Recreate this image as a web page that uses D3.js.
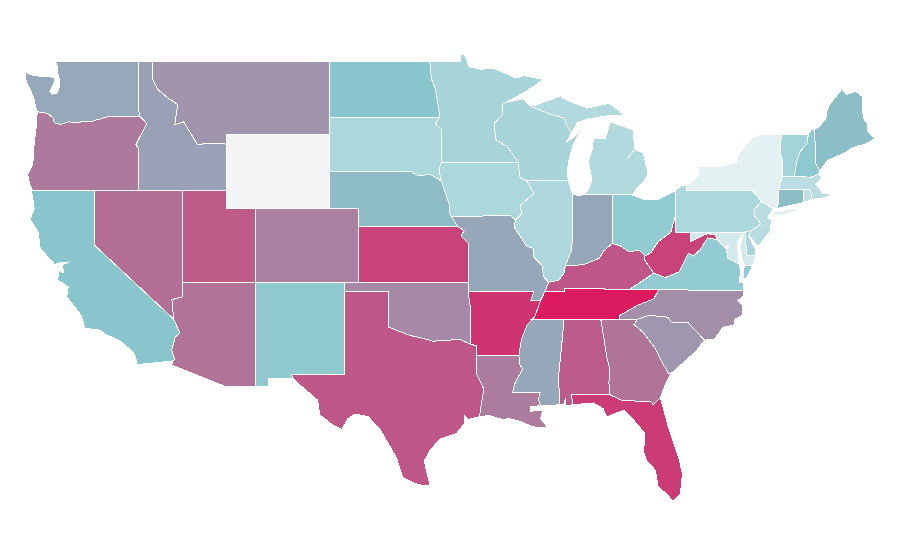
<!DOCTYPE html>
<html>
<head>
<meta charset="utf-8">
<script src="https://cdn.jsdelivr.net/npm/d3@7/dist/d3.min.js"></script>
<style>
  html, body { margin: 0; background: #fff; }
  .state { stroke: #fff; stroke-width: 1; shape-rendering: crispEdges; }
</style>
</head>
<body>
<svg id="map" width="900" height="560"></svg>
<script>
var stateNames = ['WA','OR','CA','NV','ID','MT','WY','UT','AZ','CO','NM','ND','SD','NE','KS','OK','TX','MN','IA','MO','AR','LA','WI','IL','IN','MI','OH','KY','TN','MS','AL','GA','FL','SC','NC','VA','WV','PA','NY','NJ','DE','MD','DC','CT','RI','MA','VT','NH','ME'];

// Read from the fills; WY has no value
var stateValues = [46,64,35.5,68,49,54,null,76,66,61,32.4,35.5,23.3,39,85,58,77,25.3,23.3,46.6,90,63,24.6,22.7,46.6,21.4,31.4,77,100,46.6,75,66,87,53,56,31.8,85,23.3,5.2,19.8,24.6,10.7,5,38,17,19,26,32.7,38];

// lon/lat outlines, one list of rings per state, same order as stateNames
var stateOutlines = [
  // WA
  [[[-124.73,48.38],[-124.1,48.2],[-123.2,48.15],[-122.78,48.12],[-122.7,47.9],[-123.05,47.35],[-122.85,47.2],[-122.6,47.25],[-122.45,47.4],[-122.35,47.9],[-122.5,48.3],[-122.5,48.75],[-122.78,49],[-117.03,49],[-117.04,46.42],[-116.92,45.99],[-118.98,46],[-119.3,45.93],[-120.2,45.73],[-120.65,45.74],[-121.2,45.65],[-121.8,45.7],[-122.3,45.55],[-122.75,45.65],[-122.8,45.9],[-123.2,46.15],[-123.9,46.25],[-124.05,46.65],[-124.1,46.9],[-124.4,47.5],[-124.7,48]]],
  // OR
  [[[-123.9,46.25],[-123.2,46.15],[-122.8,45.9],[-122.75,45.65],[-122.3,45.55],[-121.8,45.7],[-121.2,45.65],[-120.65,45.74],[-120.2,45.73],[-119.3,45.93],[-118.98,46],[-116.92,45.99],[-116.46,45.61],[-116.85,45],[-117.2,44.45],[-117.03,44.25],[-117.03,43.83],[-117.03,42],[-124.21,42],[-124.4,42.3],[-124.55,42.84],[-124.2,43.4],[-124.1,44.6],[-123.95,45.5]]],
  // CA
  [[[-124.21,42],[-120,42],[-120,39],[-114.63,35],[-114.2,34.25],[-114.53,34],[-114.76,33.3],[-114.54,32.8],[-114.72,32.72],[-117.12,32.53],[-117.2,32.9],[-117.4,33.2],[-118.1,33.72],[-118.5,33.9],[-119.2,34.15],[-119.65,34.4],[-120.65,34.5],[-120.9,35.2],[-121.9,36.2],[-121.8,36.75],[-122.15,36.95],[-122.5,37.1],[-122.45,37.7],[-122.3,37.55],[-122.1,37.5],[-122.2,37.95],[-121.7,38.1],[-122.4,38.05],[-122.7,37.95],[-123.7,38.85],[-123.85,39.75],[-124.39,40.4],[-124.1,41],[-124.27,41.9]]],
  // NV
  [[[-120,42],[-114.04,42],[-114.04,36.2],[-114.75,36.05],[-114.63,35],[-120,39]]],
  // ID
  [[[-117.03,49],[-116.05,49],[-116.05,48],[-115.7,47.45],[-114.95,46.95],[-114.35,46.65],[-114.55,45.55],[-113.95,45.7],[-113.45,45.05],[-113,44.45],[-112.3,44.55],[-111.5,44.55],[-111.05,44.48],[-111.05,42],[-117.03,42],[-117.03,43.83],[-117.03,44.25],[-117.2,44.45],[-116.85,45],[-116.46,45.61],[-116.92,45.99],[-117.04,46.42]]],
  // MT
  [[[-116.05,49],[-104.05,49],[-104.05,45],[-111.05,45],[-111.05,44.48],[-111.5,44.55],[-112.3,44.55],[-113,44.45],[-113.45,45.05],[-113.95,45.7],[-114.55,45.55],[-114.35,46.65],[-114.95,46.95],[-115.7,47.45],[-116.05,48]]],
  // WY
  [[[-111.05,45],[-104.05,45],[-104.05,41],[-111.05,41]]],
  // UT
  [[[-114.04,42],[-111.05,42],[-111.05,41],[-109.05,41],[-109.05,37],[-114.04,37]]],
  // AZ
  [[[-114.04,37],[-109.05,37],[-109.05,31.33],[-111.07,31.33],[-114.75,32.5],[-114.72,32.72],[-114.54,32.8],[-114.76,33.3],[-114.53,34],[-114.2,34.25],[-114.63,35],[-114.75,36.05],[-114.04,36.2]]],
  // CO
  [[[-109.05,41],[-102.05,41],[-102.05,37],[-109.05,37]]],
  // NM
  [[[-109.05,37],[-103,37],[-103.04,32],[-106.62,32],[-106.53,31.78],[-108.2,31.78],[-108.2,31.33],[-109.05,31.33]]],
  // ND
  [[[-104.05,49],[-97.23,49],[-97.1,48],[-96.85,47.5],[-96.6,46.3],[-96.56,45.94],[-104.05,45.94]]],
  // SD
  [[[-104.05,45.94],[-96.56,45.94],[-96.85,45.6],[-96.45,45.3],[-96.45,43.5],[-96.6,43.1],[-96.45,42.49],[-97.2,42.85],[-98,42.77],[-98.5,43],[-104.05,43]]],
  // NE
  [[[-104.05,43],[-98.5,43],[-98,42.77],[-97.2,42.85],[-96.45,42.49],[-96.1,41.7],[-95.9,41.2],[-95.85,40.7],[-95.31,40],[-102.05,40],[-102.05,41],[-104.05,41]]],
  // KS
  [[[-102.05,40],[-95.31,40],[-94.9,39.8],[-95.1,39.5],[-94.61,39.11],[-94.62,37],[-102.05,37]]],
  // OK
  [[[-103,37],[-94.62,37],[-94.62,36.5],[-94.43,35.4],[-94.48,33.64],[-95.2,33.9],[-96,33.85],[-97,33.8],[-97.7,33.95],[-98.5,34.1],[-99.2,34.3],[-100,34.56],[-100,36.5],[-103,36.5]]],
  // TX
  [[[-106.62,32],[-103.04,32],[-103,36.5],[-100,36.5],[-100,34.56],[-99.2,34.3],[-98.5,34.1],[-97.7,33.95],[-97,33.8],[-96,33.85],[-95.2,33.9],[-94.48,33.64],[-94.04,33.55],[-94.04,33.02],[-94.04,32],[-93.55,31.2],[-93.7,30.5],[-93.85,29.7],[-94.6,29.55],[-94.85,29.75],[-94.85,29.35],[-95.4,28.8],[-96.5,28.5],[-97.2,27.9],[-97.6,27.3],[-97.4,26.6],[-97.2,25.95],[-97.6,25.95],[-98.3,26.1],[-99.05,26.4],[-99.5,27.5],[-100.6,29],[-101.4,29.7],[-102.3,29.85],[-102.8,29.6],[-103.2,29],[-103.8,29.25],[-104.7,29.8],[-104.85,30.6],[-106,31.4],[-106.53,31.78]]],
  // MN
  [[[-97.23,49],[-95.15,49],[-95.15,49.38],[-94.8,49.3],[-94.6,48.7],[-93.8,48.55],[-92.9,48.6],[-92,48.3],[-91.4,48.07],[-90.8,48.2],[-89.5,48],[-90.8,47.3],[-92.05,46.75],[-92.3,46.65],[-92.3,46.1],[-92.85,45.6],[-92.75,44.75],[-91.9,44.3],[-91.22,43.5],[-96.45,43.5],[-96.45,45.3],[-96.85,45.6],[-96.56,45.94],[-96.6,46.3],[-96.85,47.5],[-97.1,48]]],
  // IA
  [[[-96.45,43.5],[-91.22,43.5],[-91.1,42.7],[-90.64,42.5],[-90.15,41.8],[-91.05,41.2],[-91,40.7],[-91.4,40.38],[-91.73,40.6],[-95.77,40.58],[-95.85,40.7],[-95.9,41.2],[-96.1,41.7],[-96.45,42.49],[-96.6,43.1]]],
  // MO
  [[[-95.77,40.58],[-91.73,40.6],[-91.4,40.38],[-91.5,40],[-91,39.4],[-90.7,39],[-90.15,38.8],[-90.2,38.4],[-89.6,37.9],[-89.5,37.3],[-89.15,37],[-89.4,36.5],[-89.7,36],[-90.37,36],[-90.15,36.5],[-94.62,36.5],[-94.62,37],[-94.61,39.11],[-95.1,39.5],[-94.9,39.8],[-95.31,40]]],
  // AR
  [[[-94.62,36.5],[-90.15,36.5],[-90.37,36],[-89.7,36],[-90.1,35.1],[-90.6,34.7],[-91,33.9],[-91.17,33],[-94.04,33.02],[-94.04,33.55],[-94.48,33.64],[-94.43,35.4]]],
  // LA
  [[[-94.04,33.02],[-91.17,33],[-91.1,32.5],[-90.9,32.3],[-91.4,31.6],[-91.6,31],[-89.73,31],[-89.85,30.65],[-89.7,30.3],[-90.4,30.25],[-90.4,30],[-89.55,30.05],[-89.7,29.6],[-89.2,29.1],[-90.2,29.15],[-91.1,29.45],[-91.8,29.6],[-92.3,29.55],[-93.2,29.77],[-93.85,29.7],[-93.7,30.5],[-93.55,31.2],[-94.04,32]]],
  // WI
  [[[-92.05,46.75],[-90.9,46.95],[-90.4,46.55],[-89.1,46.13],[-88.1,45.9],[-87.8,45.35],[-87.6,45.1],[-88,44.55],[-87.4,44.9],[-87,45.25],[-87.5,44.4],[-87.75,43.7],[-87.9,43],[-87.8,42.49],[-90.64,42.5],[-91.1,42.7],[-91.22,43.5],[-91.9,44.3],[-92.75,44.75],[-92.85,45.6],[-92.3,46.1],[-92.3,46.65]]],
  // IL
  [[[-90.64,42.5],[-87.8,42.49],[-87.53,41.75],[-87.53,39.35],[-87.6,38.7],[-88,37.9],[-88.1,37.5],[-88.45,37.1],[-89.15,37],[-89.5,37.3],[-89.6,37.9],[-90.2,38.4],[-90.15,38.8],[-90.7,39],[-91,39.4],[-91.5,40],[-91.4,40.38],[-91,40.7],[-91.05,41.2],[-90.15,41.8]]],
  // IN
  [[[-87.53,41.75],[-87,41.7],[-86.8,41.76],[-84.8,41.76],[-84.82,39.1],[-85.4,38.7],[-85.7,38.3],[-86.3,38.1],[-86.8,37.95],[-87.6,37.9],[-88,37.9],[-87.6,38.7],[-87.53,39.35]]],
  // MI
  [[[-86.8,41.76],[-84.8,41.76],[-83.45,41.73],[-83.25,42],[-82.5,42.65],[-82.4,42.9],[-82.7,44],[-83.3,44.2],[-83.9,43.6],[-83.3,44.2],[-83.4,45.25],[-84.95,45.7],[-85.3,44.8],[-86.1,44.8],[-86.2,44.17],[-86.45,43.6],[-86.2,42.5],[-86.5,41.95]],
   [[-90.4,46.55],[-90.06,46.6],[-88.5,47.05],[-87.8,47.37],[-88.3,47.05],[-87.7,46.8],[-86.5,46.45],[-85.1,46.7],[-84.3,46.3],[-84.1,46.05],[-85,46.05],[-86.5,45.85],[-87.2,45.65],[-87.6,45.1],[-87.8,45.35],[-88.1,45.9],[-89.1,46.13]]],
  // OH
  [[[-84.8,41.76],[-83.45,41.73],[-82.7,41.5],[-81.7,41.5],[-80.52,41.98],[-80.52,40.64],[-80.85,39.7],[-81.7,39.2],[-82.2,38.6],[-82.6,38.42],[-83,38.73],[-83.7,38.65],[-84.3,38.98],[-84.82,39.1]]],
  // KY
  [[[-89.4,36.5],[-88.07,36.5],[-88.05,36.68],[-83.68,36.6],[-83.1,36.9],[-82,37.5],[-82.6,38.17],[-82.6,38.42],[-83,38.73],[-83.7,38.65],[-84.3,38.98],[-84.82,39.1],[-85.4,38.7],[-85.7,38.3],[-86.3,38.1],[-86.8,37.95],[-87.6,37.9],[-88,37.9],[-88.1,37.5],[-88.45,37.1],[-89.15,37]]],
  // TN
  [[[-90.3,35],[-88.2,35],[-84.32,35],[-84.3,35.2],[-83.1,35.75],[-82,36.1],[-81.68,36.59],[-83.68,36.6],[-88.05,36.68],[-88.07,36.5],[-89.4,36.5],[-89.7,36],[-90.1,35.1]]],
  // MS
  [[[-90.3,35],[-88.2,35],[-88.1,34.9],[-88.47,31.9],[-88.4,30.35],[-89.35,30.3],[-89.7,30.3],[-89.85,30.65],[-89.73,31],[-91.6,31],[-91.4,31.6],[-90.9,32.3],[-91.1,32.5],[-91.17,33],[-91,33.9],[-90.6,34.7],[-90.1,35.1]]],
  // AL
  [[[-88.2,35],[-85.6,34.98],[-85.18,32.87],[-85,32.3],[-85.05,31.55],[-85,30.9],[-87.6,30.9],[-87.5,30.35],[-88,30.3],[-88,30.7],[-88.15,30.35],[-88.4,30.35],[-88.47,31.9],[-88.1,34.9]]],
  // GA
  [[[-85.6,34.98],[-83.1,35],[-83.35,34.7],[-82.75,34.3],[-81.9,33.4],[-81.4,32.6],[-81,32.05],[-80.85,32.03],[-81.3,31.3],[-81.55,30.72],[-82.05,30.36],[-82.15,30.5],[-84.2,30.6],[-85,30.9],[-85.05,31.55],[-85,32.3],[-85.18,32.87]]],
  // FL
  [[[-87.6,30.9],[-85,30.9],[-84.2,30.6],[-82.15,30.5],[-82.05,30.36],[-81.55,30.72],[-81.3,30],[-81,29.1],[-80.3,27.45],[-80.05,26.6],[-80.2,25.5],[-80.7,25.1],[-81.1,25.5],[-81.7,25.9],[-81.9,26.8],[-82.5,27.35],[-82.7,27.8],[-82.6,28.8],[-83.3,29.45],[-84.05,30.05],[-85.2,29.7],[-85.45,30.15],[-86.1,30.45],[-87.5,30.35]]],
  // SC
  [[[-83.1,35],[-82.3,35.2],[-81.05,35.1],[-80.8,34.82],[-79.67,34.8],[-78.55,33.86],[-79.2,33.2],[-79.9,32.7],[-80.85,32.03],[-81,32.05],[-81.4,32.6],[-81.9,33.4],[-82.75,34.3],[-83.35,34.7]]],
  // NC
  [[[-84.32,35],[-83.1,35],[-82.3,35.2],[-81.05,35.1],[-80.8,34.82],[-79.67,34.8],[-78.55,33.86],[-77.9,33.9],[-77.3,34.55],[-76.5,34.7],[-76.5,35],[-76,35.2],[-75.95,35.7],[-76.3,36],[-75.95,36.2],[-75.87,36.55],[-81.68,36.59],[-82,36.1],[-83.1,35.75],[-84.3,35.2]]],
  // VA
  [[[-83.68,36.6],[-81.68,36.59],[-75.87,36.55],[-75.95,37],[-76.2,37],[-76.1,37.6],[-76.2,38],[-77,38.3],[-77.05,38.8],[-77.72,39.32],[-78.35,39.4],[-78.85,38.77],[-79.3,38.42],[-79.65,38.58],[-80.3,37.55],[-81.23,37.25],[-82,37.5],[-83.1,36.9]],
   [[-75.3,37.9],[-75.85,37.9],[-75.95,37.2],[-75.7,37.2]]],
  // WV
  [[[-82.6,38.42],[-82.2,38.6],[-81.7,39.2],[-80.85,39.7],[-80.52,40.64],[-80.52,39.72],[-79.48,39.72],[-79.48,39.2],[-78.9,39.45],[-78.4,39.62],[-77.83,39.6],[-77.72,39.32],[-78.35,39.4],[-78.85,38.77],[-79.3,38.42],[-79.65,38.58],[-80.3,37.55],[-81.23,37.25],[-82,37.5],[-82.6,38.17]]],
  // PA
  [[[-80.52,41.98],[-80.07,42.27],[-79.76,42.25],[-79.76,42],[-75.35,42],[-75.05,41.75],[-74.7,41.36],[-75.13,40.98],[-75.2,40.65],[-74.72,40.15],[-75.4,39.8],[-75.79,39.72],[-80.52,39.72],[-80.52,40.64]]],
  // NY
  [[[-79.76,42.25],[-79.06,42.7],[-78.9,42.9],[-79.05,43.27],[-77.5,43.27],[-76.4,43.5],[-76.2,44],[-75.3,44.85],[-74.7,45],[-73.34,45.01],[-73.4,44],[-73.25,43.55],[-73.27,42.75],[-73.5,42.05],[-73.5,41.3],[-73.65,41],[-73.92,41],[-74.7,41.36],[-75.05,41.75],[-75.35,42],[-79.76,42]],
   [[-74,40.6],[-73.75,40.85],[-72.6,40.98],[-72,41.05],[-73,40.65]]],
  // NJ
  [[[-74.7,41.36],[-73.92,41],[-74.25,40.5],[-74,40.4],[-74.1,39.75],[-74.9,38.95],[-75.55,39.5],[-75.4,39.8],[-74.72,40.15],[-75.2,40.65],[-75.13,40.98]]],
  // DE
  [[[-75.79,39.72],[-75.4,39.8],[-75.55,39.5],[-75.1,38.8],[-75.05,38.45],[-75.7,38.46]]],
  // MD
  [[[-79.48,39.72],[-75.79,39.72],[-75.7,38.46],[-75.05,38.45],[-75.3,37.9],[-75.85,37.9],[-76,38.3],[-76.15,38.9],[-76,39.3],[-76,39.55],[-76.3,39.2],[-76.3,38.9],[-76.2,38],[-77,38.3],[-77.05,38.8],[-77.72,39.32],[-77.83,39.6],[-78.4,39.62],[-78.9,39.45],[-79.48,39.2]]],
  // DC
  [[[-77.12,38.93],[-77.04,39],[-76.91,38.89],[-77.04,38.79]]],
  // CT
  [[[-73.5,42.05],[-71.8,42.02],[-71.85,41.32],[-73.65,41],[-73.5,41.3]]],
  // RI
  [[[-71.8,42.02],[-71.38,42.02],[-71.2,41.5],[-71.85,41.32]]],
  // MA
  [[[-73.27,42.75],[-71.3,42.7],[-70.8,42.87],[-70.6,42.65],[-71,42.3],[-70.6,41.95],[-70.55,41.8],[-70,41.78],[-70.2,42.07],[-69.95,41.7],[-70.65,41.55],[-71.2,41.5],[-71.38,42.02],[-71.8,42.02],[-73.5,42.05]]],
  // VT
  [[[-73.34,45.01],[-71.5,45.01],[-71.6,44.5],[-72.05,44.1],[-72.3,43.5],[-72.46,42.73],[-73.27,42.75],[-73.25,43.55],[-73.4,44]]],
  // NH
  [[[-71.5,45.01],[-71.3,45.3],[-71.08,45.3],[-70.98,43.4],[-70.7,43.07],[-70.8,42.87],[-71.3,42.7],[-72.46,42.73],[-72.3,43.5],[-72.05,44.1],[-71.6,44.5]]],
  // ME
  [[[-71.08,45.3],[-70.8,45.4],[-70.25,45.95],[-70.3,46.2],[-70,46.7],[-69.23,47.46],[-68.9,47.18],[-68.3,47.35],[-67.8,47.07],[-67.78,45.9],[-67.45,45.6],[-67.45,45.15],[-66.97,44.8],[-67.6,44.5],[-68.5,44.3],[-69.05,44],[-69.8,43.75],[-70.2,43.6],[-70.7,43.07],[-70.98,43.4]]]
];

var noDataColor = '#f3f4f6';

// lon and lat are both linear in the reference map
var x = d3.scaleLinear().domain([-124.73, -66.97]).range([25, 875]);
var y = d3.scaleLinear().domain([49, 25.13]).range([61, 501]);

var color = d3.scaleLinear()
  .domain([0, 35, 100])
  .range(['#f4f9fa', '#88c6cd', '#dc1a60']);

var ringPath = d3.line()
  .x(function(d) { return x(d[0]); })
  .y(function(d) { return y(d[1]); })
  .curve(d3.curveLinearClosed);

var states = d3.zip(stateNames, stateValues, stateOutlines);

d3.select('#map')
  .selectAll('path')
  .data(states)
  .enter()
  .append('path')
  .attr('class', 'state')
  .attr('d', function(d) { return d[2].map(ringPath).join(''); })
  .attr('fill', function(d) { return d[1] === null ? noDataColor : color(d[1]); });
</script>
</body>
</html>
